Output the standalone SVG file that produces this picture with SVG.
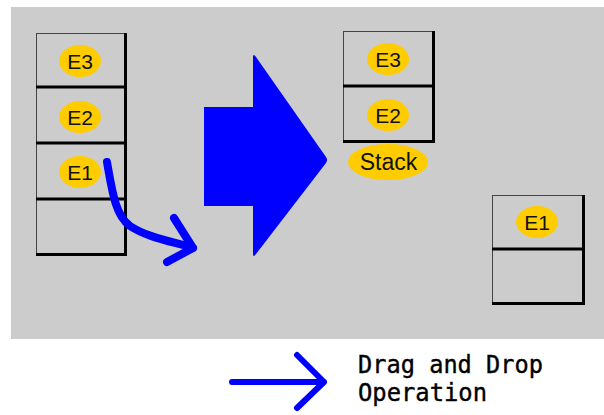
<svg xmlns="http://www.w3.org/2000/svg" width="604" height="415" viewBox="0 0 604 415">
<style>
.cell{fill:none;stroke:#444;stroke-width:1}
.thick{stroke:#000;stroke-width:3;fill:none}
.tag{fill:#FFCC00}
.lbl{font-family:"Liberation Sans",Arial,sans-serif;font-size:21px;fill:#111;text-anchor:middle}
.blue{stroke:#0000FF;fill:none;stroke-linecap:round;stroke-linejoin:round}
.legend{font-family:"DejaVu Sans Mono","Liberation Mono",monospace;font-size:25px;fill:#000;stroke:#000;stroke-width:0.4}
</style>
<rect x="0" y="0" width="604" height="415" fill="#fff"/>
<rect x="11" y="7" width="593" height="332" fill="#CCCCCC"/>

<g id="left-stack">
<rect class="cell" x="36.5" y="33.5" width="89" height="221"/>
<path class="thick" d="M125.5,33 V256 M36,87 H127 M36,143 H127 M36,199 H127 M36,254.5 H127"/>
<ellipse class="tag" cx="80" cy="61" rx="21" ry="16"/>
<text class="lbl" x="80" y="68.5">E3</text>
<ellipse class="tag" cx="80" cy="117" rx="21" ry="16"/>
<text class="lbl" x="80" y="124.5">E2</text>
<ellipse class="tag" cx="80" cy="172" rx="21" ry="16"/>
<text class="lbl" x="80" y="179.5">E1</text>
</g>

<g id="big-arrow">
<path d="M204,107 H253 V57 Q253,53 256,57 L326,157 Q328,160 326,163 L256,254 Q253,258 253,254 V206 H204 Z" fill="#0000FF"/>
</g>

<g id="right-stack">
<rect class="cell" x="343.5" y="31.5" width="90" height="110"/>
<path class="thick" d="M433.5,31 V143 M343,86 H435 M343,141.5 H435"/>
<ellipse class="tag" cx="388" cy="59" rx="21" ry="16"/>
<text class="lbl" x="388" y="66.5">E3</text>
<ellipse class="tag" cx="388" cy="115" rx="21" ry="16"/>
<text class="lbl" x="388" y="122.5">E2</text>
</g>

<g id="stack-label">
<ellipse class="tag" cx="388" cy="162" rx="40" ry="18"/>
<text class="lbl" x="388.5" y="170" style="font-size:23px">Stack</text>
</g>

<g id="dropped-box">
<rect class="cell" x="492.5" y="195.5" width="91" height="108"/>
<path class="thick" d="M583.5,195 V305 M492,249 H585 M492,303.5 H585"/>
<ellipse class="tag" cx="537" cy="222" rx="21" ry="16"/>
<text class="lbl" x="537" y="229.5">E1</text>
</g>

<g id="connectors">
<path class="blue" stroke-width="8" d="M107,162 C112,190 115,215 130,226 C148,238 175,242 193,248"/>
<path class="blue" stroke-width="8" d="M174,218 L193,248 L167,262"/>
</g>

<g id="legend">
<path class="blue" stroke-width="6" d="M232,382 H324 M297,355 L324,382 L297,408"/>
<text class="legend" x="358" y="373" textLength="185" lengthAdjust="spacingAndGlyphs">Drag and Drop</text>
<text class="legend" x="358" y="401" textLength="129" lengthAdjust="spacingAndGlyphs">Operation</text>
</g>
</svg>
